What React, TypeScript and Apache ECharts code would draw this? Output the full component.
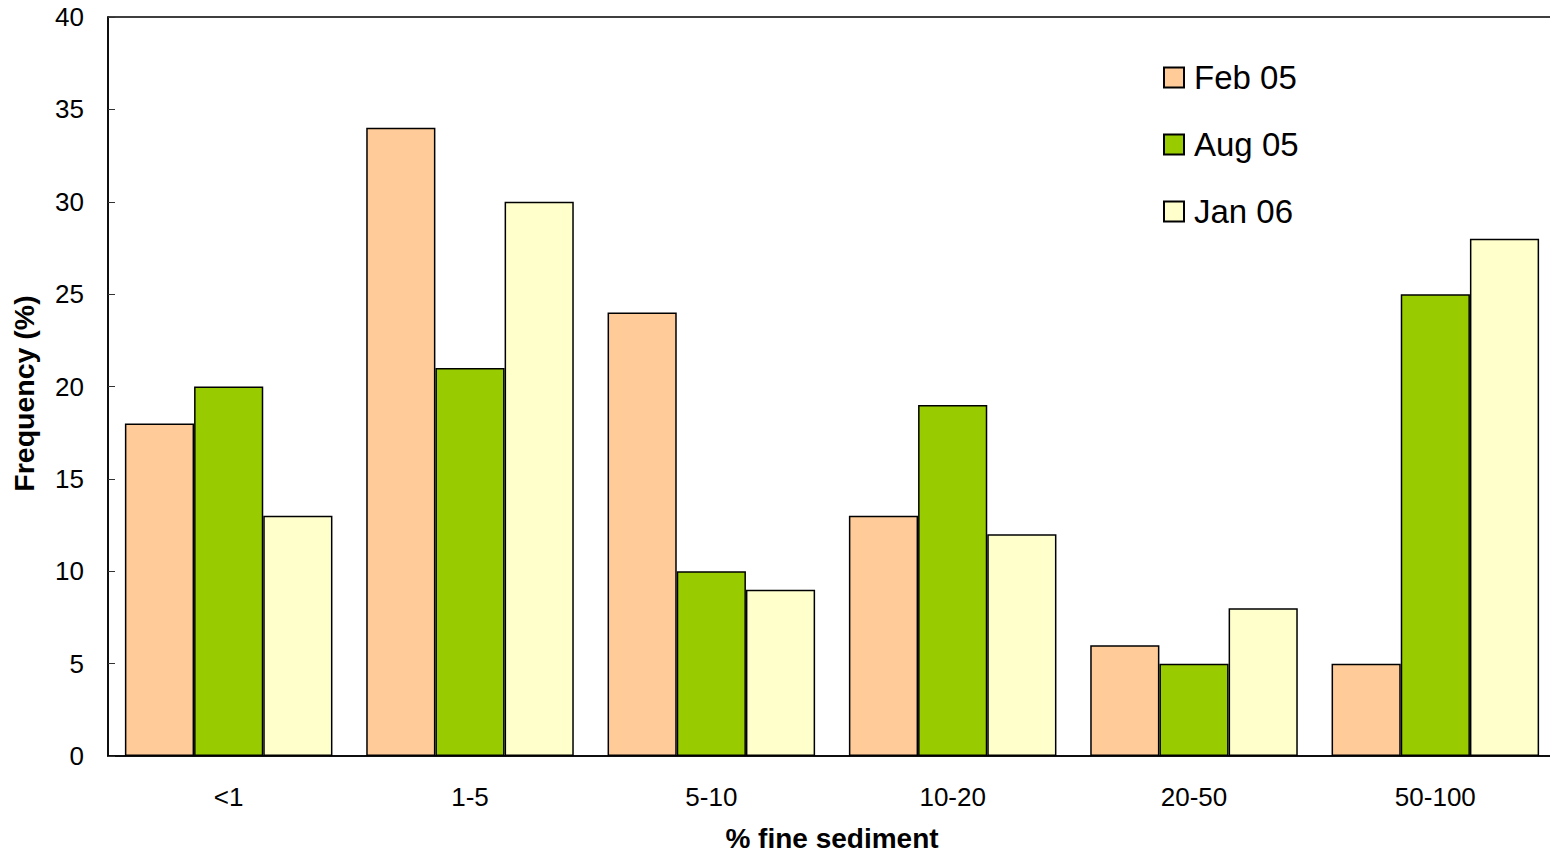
import React, { useEffect, useRef } from "react";
import * as echarts from "echarts";

// Size classes of fine sediment cover (%)
const categories = ["<1", "1-5", "5-10", "10-20", "20-50", "50-100"];

// Frequency (%) of each class per survey
const feb05 = [18, 34, 24, 13, 6, 5];
const aug05 = [20, 21, 10, 19, 5, 25];
const jan06 = [13, 30, 9, 12, 8, 28];

const yTicks = { min: 0, max: 40, interval: 5 };

const FONT = "'Liberation Sans', Arial, sans-serif";

export default function App() {
  const ref = useRef<HTMLDivElement>(null);

  useEffect(() => {
    if (!ref.current) return;
    const chart = echarts.init(ref.current, null, { renderer: "svg" });

    const barStyle = (color: string) => ({
      color,
      borderColor: "#000",
      borderWidth: 1.5,
    });

    chart.setOption({
      animation: false,
      backgroundColor: "#fff",
      textStyle: { fontFamily: FONT, color: "#000" },
      grid: {
        left: 108,
        top: 17,
        right: 4,
        bottom: 97,
        outerBoundsMode: "none",
        show: true,
        borderColor: "#000",
        borderWidth: 1.5,
      },
      legend: {
        orient: "vertical",
        left: 1158,
        top: 56,
        itemWidth: 20,
        itemHeight: 20,
        itemGap: 34,
        icon: "rect",
        textStyle: {
          fontSize: 33,
          color: "#000",
          fontFamily: FONT,
          padding: [0, 0, 0, 5],
        },
        data: ["Feb 05", "Aug 05", "Jan 06"],
      },
      xAxis: {
        type: "category",
        data: categories,
        name: "% fine sediment",
        nameLocation: "middle",
        nameGap: 68,
        nameTextStyle: { fontSize: 28, fontWeight: "bold", color: "#000", fontFamily: FONT },
        axisLine: { lineStyle: { color: "#000", width: 1.5 } },
        axisTick: { inside: true, length: 7, lineStyle: { color: "#333" } },
        axisLabel: { fontSize: 26, color: "#000", margin: 28, fontFamily: FONT },
        splitLine: { show: false },
      },
      yAxis: {
        type: "value",
        min: yTicks.min,
        max: yTicks.max,
        interval: yTicks.interval,
        name: "Frequency (%)",
        nameLocation: "middle",
        nameGap: 70,
        nameRotate: 90,
        nameTextStyle: {
          fontSize: 28.5,
          fontWeight: "bold",
          color: "#000",
          fontFamily: FONT,
          padding: [0, 14, 0, 0],
        },
        axisLine: { show: true, lineStyle: { color: "#000", width: 1.5 } },
        axisTick: { show: true, inside: true, length: 7, lineStyle: { color: "#333" } },
        axisLabel: { fontSize: 26, color: "#000", margin: 24, fontFamily: FONT },
        splitLine: { show: false },
      },
      series: [
        {
          name: "Feb 05",
          type: "bar",
          data: feb05,
          barGap: "0%",
          barCategoryGap: "14%",
          itemStyle: barStyle("#FFCC99"),
        },
        {
          name: "Aug 05",
          type: "bar",
          data: aug05,
          barGap: "0%",
          barCategoryGap: "14%",
          itemStyle: barStyle("#99CC00"),
        },
        {
          name: "Jan 06",
          type: "bar",
          data: jan06,
          barGap: "0%",
          barCategoryGap: "14%",
          itemStyle: barStyle("#FFFFCC"),
        },
      ],
    });

    return () => chart.dispose();
  }, []);

  return (
    <div
      ref={ref}
      style={{ position: "fixed", left: 0, top: 0, width: 1560, height: 853 }}
    />
  );
}
